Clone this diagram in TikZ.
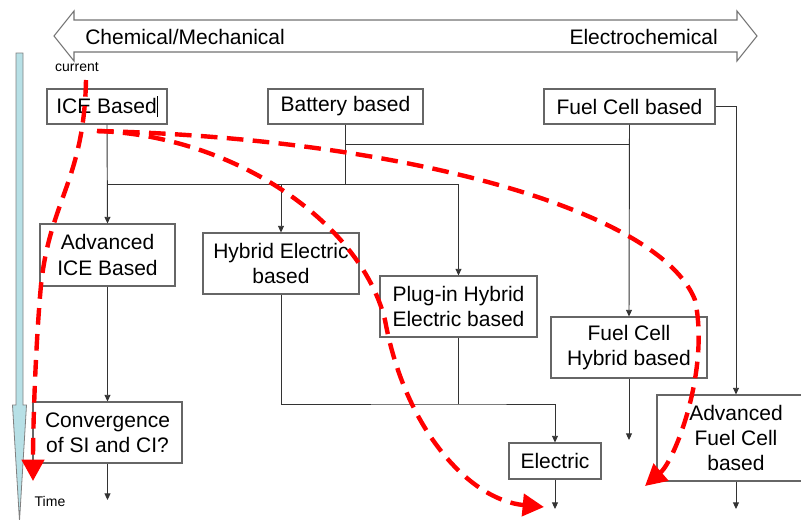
\documentclass[tikz,border=0pt]{standalone}
\usepackage{fontspec}
\setmainfont{Liberation Sans}
\usetikzlibrary{arrows.meta}
\usetikzlibrary{positioning}

\definecolor{timeblue}{RGB}{183,224,230}
\tikzset{
  box/.style={draw=black!60,line width=0.8pt,fill=white,inner sep=0pt,align=center,font=\fontsize{15.75}{19}\selectfont},
  link/.style={black!80,line width=0.7pt},
  linkto/.style={link,-{Triangle[length=5pt,width=4.5pt]}},
  trend/.style={red,line width=3.3pt,dash pattern=on 12.5pt off 7pt,-{Triangle[length=16pt,width=16.5pt]}},
  smalltext/.style={font=\fontsize{10.5}{12}\selectfont,inner sep=0pt},
}

\begin{document}
\begin{tikzpicture}[x=0.75pt,y=-0.75pt]
\useasboundingbox (0,0) rectangle (801,519);
\clip (0,0) rectangle (801,519);

% time axis
\draw[draw=black!50,fill=timeblue,line width=0.6pt] (16,53) -- (23,53) -- (23,405) -- (26.5,405) -- (19.5,521) -- (12.5,405) -- (16,405) -- cycle;

% chemical <-> electrochemical
\draw[draw=black!55,fill=white,line width=0.8pt] (54,36) -- (74,11) -- (74,20) -- (737,20) -- (737,11) -- (757,36) -- (737,61) -- (737,52) -- (74,52) -- (74,61) -- cycle;
\node[font=\fontsize{15.75}{19}\selectfont,anchor=west,inner sep=0pt] (chem) at (85,37) {Chemical/Mechanical};
\node[font=\fontsize{15.75}{19}\selectfont,anchor=east,inner sep=0pt] (elchem) at (718,37) {Electrochemical};

\node[smalltext] (now) at (77,67) {current};
\node[smalltext] (tlabel) at (50,501) {Time};

% boxes
\node[box,minimum width=90pt,minimum height=26.25pt] (ice) at (107,106.5) {ICE Based\rule[-3pt]{0.6pt}{16pt}};
\node[box,minimum width=116.25pt,minimum height=26.25pt] (bat) at (345.5,106.5) {Battery based};
\node[box,minimum width=128.25pt,minimum height=26.25pt] (fc) at (629.5,106.5) {Fuel Cell based};
\node[box,minimum width=101.25pt,minimum height=46.5pt] (aice) at (107.5,255) {Advanced\\ICE Based};
\node[box,minimum width=117pt,minimum height=45.75pt] (hev) at (281,263.5) {Hybrid Electric\\based};
\node[box,minimum width=117.75pt,minimum height=45.75pt] (phev) at (458.5,306.5) {Plug-in Hybrid\\Electric based};
\node[box,minimum width=117pt,minimum height=45.75pt] (fch) at (629,347.5) {Fuel Cell\\Hybrid based};
\node[box,minimum width=111.75pt,minimum height=45.75pt] (conv) at (107.5,432.5) {Convergence\\of SI and CI?};
\node[box,minimum width=69pt,minimum height=27pt] (elec) at (555,461) {Electric};
\node[box,minimum width=118.5pt,minimum height=64.5pt] (afc) at (736,438) {Advanced\\Fuel Cell\\based};

% connectors
\coordinate (busA) at (345.5,184);
\coordinate (busB) at (345.5,144);
\coordinate (busC) at (458.5,404);
\draw[link] (bat.south) -- (busA);
\draw[link] (ice.south |- busA) -- (phev.north |- busA);
\draw[link] (busB) -- (fc.south |- busB);
\draw[linkto] (ice.south) -- (aice.north);
\draw[linkto] (hev.north |- busA) -- (hev.north);
\draw[linkto] (phev.north |- busA) -- (phev.north);
\draw[linkto] (fc.south) -- (fch.north);
\draw[linkto] (fc.east) -| (afc.north);
\draw[linkto] (aice.south) -- (conv.north);
\draw[link] (phev.south) -- (busC);
\draw[linkto] (hev.south) |- (busC) -| (elec.north);

\coordinate (convEnd) at (107.5,500);
\coordinate (elecEnd) at (555,509);
\coordinate (fchEnd) at (629,440);
\coordinate (afcEnd) at (736,509);
\draw[linkto] (conv.south) -- (convEnd);
\draw[linkto] (elec.south) -- (elecEnd);
\draw[linkto] (fch.south) -- (fchEnd);
\draw[linkto] (afc.south) -- (afcEnd);

% trends
\draw[trend] (86,80) .. controls (84,180) and (50,200) .. (41,285) .. controls (36,340) and (33,420) .. (33,481);
\draw[trend] (97,131) .. controls (230,135) and (360,220) .. (385,320) .. controls (405,430) and (470,500) .. (544,507);
\draw[trend] (97,131) .. controls (400,138) and (660,210) .. (695,300) .. controls (710,370) and (675,460) .. (645,486);

\end{tikzpicture}
\end{document}
